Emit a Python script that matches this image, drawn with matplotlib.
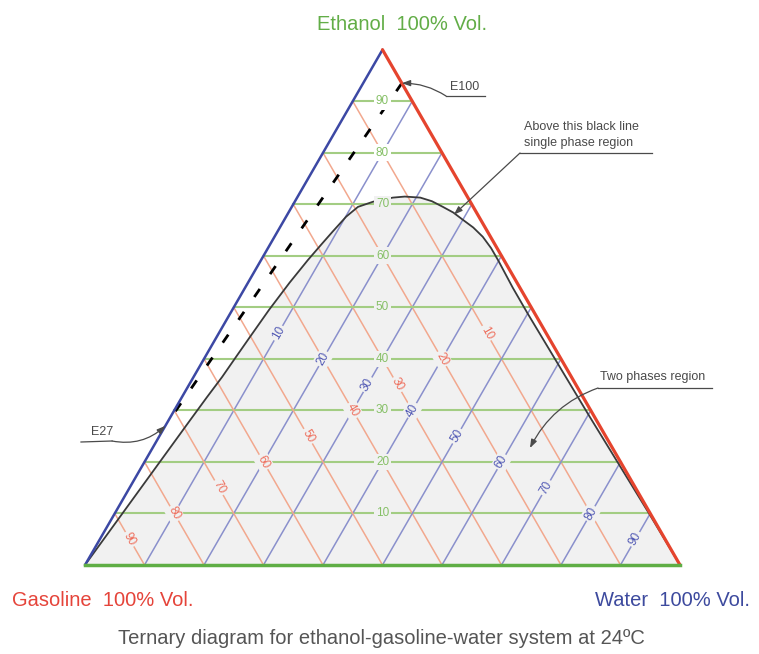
import numpy as np
import matplotlib.pyplot as plt
from matplotlib.patches import Polygon

plt.rcParams['font.family'] = ['Liberation Sans', 'DejaVu Sans']

S3 = np.sqrt(3) / 2

# grid values, % vol.
ticks = [10, 20, 30, 40, 50, 60, 70, 80, 90]

# binodal curve at 24 C: water and ethanol volume fractions
curve_w = [0.0, 0.009, 0.018, 0.027, 0.036, 0.042, 0.048, 0.052, 0.056, 0.0617,
           0.0699, 0.0787, 0.0859, 0.0927, 0.1009, 0.1113, 0.1316, 0.149, 0.161,
           0.180, 0.207, 0.230, 0.254, 0.277, 0.300, 0.325, 0.350, 0.375, 0.400,
           0.425, 0.450, 0.500, 0.600, 0.700, 0.800, 0.900, 1.0]
curve_e = [0.0, 0.070, 0.140, 0.210, 0.280, 0.325, 0.365, 0.405, 0.443, 0.495,
           0.548, 0.592, 0.621, 0.647, 0.676, 0.695, 0.705, 0.710, 0.713, 0.715,
           0.713, 0.706, 0.695, 0.684, 0.670, 0.655, 0.637, 0.615, 0.590, 0.564,
           0.538, 0.488, 0.390, 0.292, 0.195, 0.098, 0.0]

# blends: E100 (hydrated ethanol) and E27 (gasoline + ethanol)
e100 = (0.065, 0.935)
e27 = (0.0, 0.27)

GREEN, BLUE, RED = '#5fae45', '#3c48a4', '#e5442e'
G_GRID, B_GRID, R_GRID = '#a3cd83', '#8a90cc', '#f2a88e'
G_TXT, B_TXT, R_TXT = '#86c067', '#5058b4', '#ee6e5c'
INK = '#4a4a4a'
FILL = '#f1f1f1'


def cart(w, e):
    w = np.asarray(w, dtype=float)
    e = np.asarray(e, dtype=float)
    return w + e / 2, e * S3


def px(x, y):
    # image pixel -> data units (triangle side = 595 px, origin at gasoline corner)
    return (x - 85) / 595, (565 - y) / 595


fig = plt.figure(figsize=(7.59, 6.54), dpi=100)
ax = fig.add_axes([0, 0, 1, 1])
ax.set_xlim(-85 / 595, 674 / 595)
ax.set_ylim(-89 / 595, 565 / 595)
ax.axis('off')

# two phase region
cx, cy = cart(curve_w, curve_e)
ax.add_patch(Polygon(np.column_stack([cx, cy]), closed=True,
                     facecolor=FILL, edgecolor='none', zorder=0))

lbl = dict(fontsize=8.5, ha='center', va='center', zorder=5)
for t in ticks:
    k = t / 100
    # ethanol (horizontal)
    x, y = cart([0, 1 - k], [k, k])
    ax.plot(x, y, color=G_GRID, lw=1.5, zorder=1)
    bg = 'white' if k > 0.72 else FILL
    lx, ly = cart((1 - k) / 2, k)
    ax.text(lx, ly, str(t), color=G_TXT,
            bbox=dict(boxstyle='square,pad=0.2', fc=bg, ec='none'), **lbl)
    # water (parallel to gasoline-ethanol side)
    x, y = cart([k, k], [0, 1 - k])
    ax.plot(x, y, color=B_GRID, lw=1.1, zorder=1)
    lx, ly = cart(k, (1 - k) / 2)
    ax.text(lx, ly, str(t), color=B_TXT, rotation=60,
            bbox=dict(boxstyle='square,pad=0.15', fc=FILL, ec='none'), **lbl)
    # gasoline (parallel to water-ethanol side)
    x, y = cart([1 - k, 0], [0, 1 - k])
    ax.plot(x, y, color=R_GRID, lw=1.1, zorder=1)
    lx, ly = cart((1 - k) / 2, (1 - k) / 2)
    ax.text(lx, ly, str(t), color=R_TXT, rotation=-60,
            bbox=dict(boxstyle='square,pad=0.15', fc=FILL, ec='none'), **lbl)

# binodal curve
ax.plot(cx, cy, color='#3a3a3a', lw=1.3, zorder=3)

# mixing line E100 - E27
mx, my = cart([e100[0], e27[0]], [e100[1], e27[1]])
ax.plot(mx, my, color='black', lw=2, dashes=(3.5, 6.5), zorder=4)

# triangle sides
x, y = cart([0, 0], [0, 1])
ax.plot(x, y, color=BLUE, lw=1.8, zorder=6, solid_capstyle='round')
x, y = cart([1, 0], [0, 1])
ax.plot(x, y, color=RED, lw=2.3, zorder=6, solid_capstyle='round')
x, y = cart([0, 1], [0, 0])
ax.plot(x, y, color=GREEN, lw=2.5, zorder=6)

# callouts
arr = dict(arrowstyle='-|>,head_length=0.5,head_width=0.18', color=INK, lw=0.9,
           shrinkA=0, shrinkB=0)
note = dict(fontsize=9, color=INK, zorder=7)

ax.annotate('', xy=cart(*e100), xytext=px(446, 96),
            arrowprops=dict(connectionstyle='arc3,rad=0.15', **arr), zorder=7)
ax.plot(*zip(px(446, 96), px(485, 96)), color=INK, lw=0.9, zorder=7)
ax.text(*px(465, 87), 'E100', ha='center', va='center', **note)

ax.annotate('', xy=cart(*e27), xytext=px(112, 441),
            arrowprops=dict(connectionstyle='arc3,rad=0.25', **arr), zorder=7)
ax.plot(*zip(px(81, 442), px(112, 441)), color=INK, lw=0.9, zorder=7)
ax.text(*px(102, 432), 'E27', ha='center', va='center', **note)

ax.annotate('', xy=cart(0.28, 0.68), xytext=px(520, 153),
            arrowprops=dict(connectionstyle='arc3,rad=0', **arr), zorder=7)
ax.plot(*zip(px(520, 153), px(652, 153)), color=INK, lw=0.9, zorder=7)
ax.text(*px(524, 127), 'Above this black line', ha='left', va='center', **note)
ax.text(*px(524, 143), 'single phase region', ha='left', va='center', **note)

ax.annotate('', xy=px(530, 448), xytext=px(598, 388),
            arrowprops=dict(connectionstyle='arc3,rad=0.2', **arr), zorder=7)
ax.plot(*zip(px(598, 388), px(712, 388)), color=INK, lw=0.9, zorder=7)
ax.text(*px(600, 377), 'Two phases region', ha='left', va='center', **note)

# corner and figure titles
fig.text(402 / 759, 1 - 25 / 654, 'Ethanol  100% Vol.', color='#62ad47',
         fontsize=14.5, ha='center', va='center')
fig.text(12 / 759, 1 - 601 / 654, 'Gasoline  100% Vol.', color='#e5443a',
         fontsize=14.5, ha='left', va='center')
fig.text(750 / 759, 1 - 601 / 654, 'Water  100% Vol.', color='#3d4a9e',
         fontsize=14.5, ha='right', va='center')
fig.text(381 / 759, 1 - 638 / 654,
         'Ternary diagram for ethanol-gasoline-water system at 24ºC',
         color='#555555', fontsize=14.5, ha='center', va='center')

fig.savefig('out.png', dpi=100)
